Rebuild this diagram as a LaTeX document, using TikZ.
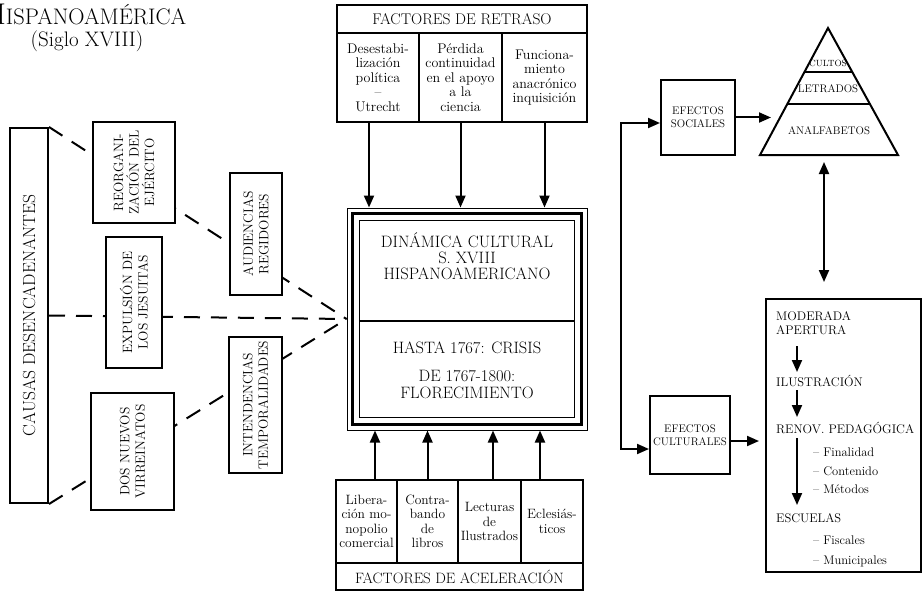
\documentclass[tikz,border=0pt]{standalone}
\usetikzlibrary{arrows.meta,backgrounds,calc}
\newcommand{\tam}[2]{\fontsize{#1}{#2}\selectfont}

\begin{document}
\begin{tikzpicture}[x=1pt,y=-1pt,
    caja/.style={draw, line width=2pt, fill=white, inner sep=1pt, align=center},
    giro/.style={caja, rotate=90, font=\tam{13.5}{15.5}},
    sub/.style={caja, font=\tam{14}{14.5}},
    acel/.style={caja, font=\tam{13.5}{14.5}},
    texto/.style={inner sep=0pt, align=center},
    central/.style={texto, anchor=base, font=\tam{16.5}{16.5}},
    renglon/.style={inner sep=0pt, anchor=base west, font=\tam{12.5}{14}},
    flecha/.style={line width=2pt, -{Triangle[length=12pt,width=10pt]}},
    doble/.style={line width=2pt, {Triangle[length=12pt,width=10pt]}-{Triangle[length=12pt,width=10pt]}},
    guion/.style={line width=2pt, dash pattern=on 16pt off 11pt}]
  \useasboundingbox (0,0) rectangle (923,599);

  \node[texto, anchor=base west] (titulo) at (-15,25) {\tam{30}{30}H\tam{22.5}{22.5}ISPANOAMÉRICA};
  \node[texto, anchor=base] (siglo) at (87,47) {\tam{21}{21}(Siglo XVIII)};

  \node[caja, minimum width=250, minimum height=28, font=\tam{15.5}{15.5}] (retraso) at (462,19) {FACTORES DE RETRASO};
  \node[sub, minimum width=82, minimum height=89] (ret1) at (378,77.5) {Desestabi-\\lización\\política\\–\\Utrecht};
  \node[sub, minimum width=83, minimum height=89] (ret2) at (460.5,77.5) {Pérdida\\continuidad\\en el apoyo\\a la\\ciencia};
  \node[sub, minimum width=85, minimum height=89] (ret3) at (544.5,77.5) {Funciona-\\miento\\anacrónico\\inquisición};

  \node[draw, line width=1pt, minimum width=240, minimum height=222] (main) at (467,319) {};
  \node[draw, line width=3.2pt, minimum width=229, minimum height=211] (marco) at (main.center) {};
  \node[draw, line width=1.1pt, minimum width=215, minimum height=197] (interior) at (main.center) {};
  \draw[line width=1.1pt] ([yshift=-2]interior.west) -- ([yshift=-2]interior.east);
  \node[central] (dinamica) at (467,247) {DINÁMICA CULTURAL};
  \node[central] (sxviii) at (467,263) {S. XVIII};
  \node[central] (hispano) at (467,279) {HISPANOAMERICANO};
  \node[central] (hasta) at (467,353) {HASTA 1767: CRISIS};
  \node[central] (desde) at (467,381) {DE 1767-1800:};
  \node[central] (flor) at (467,398) {FLORECIMIENTO};

  \node[acel, minimum width=61, minimum height=83] (acc1) at (366.5,521.5) {Libera-\\ción mo-\\nopolio\\comercial};
  \node[acel, minimum width=61, minimum height=83] (acc2) at (427.5,521.5) {Contra-\\bando\\de\\libros};
  \node[acel, minimum width=63, minimum height=83] (acc3) at (489.5,521.5) {Lecturas\\de\\Ilustrados};
  \node[acel, minimum width=62, minimum height=83] (acc4) at (552,521.5) {Eclesiás-\\ticos};
  \node[caja, minimum width=247, minimum height=27, font=\tam{15}{15}] (acelera) at (459.5,576.5) {FACTORES DE ACELERACIÓN};

  \coordinate (r1) at ([xshift=-9]ret1.south);
  \coordinate (r2) at (ret2.south);
  \coordinate (r3) at (ret3.south);
  \foreach \r in {r1,r2,r3}
    \draw[flecha] (\r) -- (\r |- main.north);
  \coordinate (a1) at ([xshift=8.5]acc1.north);
  \coordinate (a2) at (acc2.north);
  \coordinate (a3) at ([xshift=3.5]acc3.north);
  \coordinate (a4) at ([xshift=-12]acc4.north);
  \foreach \a in {a1,a2,a3,a4}
    \draw[flecha] (\a) -- (\a |- main.south);

  \node[giro, minimum width=375, minimum height=38, font=\tam{17.5}{17.5}] (causas) at (29,315.5) {CAUSAS DESENCADENANTES};
  \node[giro, minimum width=101, minimum height=82] (reorg) at (134,172.5) {REORGANI-\\ZACIÓN DEL\\EJÉRCITO};
  \node[giro, minimum width=131, minimum height=56] (expul) at (134,302.5) {EXPULSIÓN DE\\LOS JESUITAS};
  \node[giro, minimum width=117, minimum height=83] (dos) at (132.5,451.5) {DOS NUEVOS\\VIRREINATOS};
  \node[giro, minimum width=122, minimum height=52] (audien) at (256,234) {AUDIENCIAS\\REGIDORES};
  \node[giro, minimum width=136, minimum height=53] (intend) at (255.5,405) {INTENDENCIAS\\TEMPORALIDADES};
  \begin{scope}[on background layer]
    \draw[guion] (causas.south east) -- (main.west);
    \draw[guion] (causas.south) -- (main.west);
    \draw[guion] (causas.south west) -- (main.west);
  \end{scope}

  \node[caja, minimum width=74, minimum height=75, font=\tam{11}{13}] (efsoc) at (698,117.5) {EFECTOS\\SOCIALES};
  \node[caja, minimum width=80, minimum height=78, font=\tam{11}{13}] (efcult) at (690,435) {EFECTOS\\CULTURALES};
  \node[caja, minimum width=155, minimum height=273] (escuela) at (843.5,435.5) {};

  \coordinate (cima) at (828,28);
  \coordinate (baseizq) at (760,155);
  \coordinate (baseder) at (898,155);
  \draw[line width=2pt] (cima) -- (baseder) -- (baseizq) -- cycle;
  \draw[line width=2pt] ($(cima)!0.3465!(baseizq)$) -- ($(cima)!0.3465!(baseder)$);
  \draw[line width=2pt] ($(cima)!0.598!(baseizq)$) -- ($(cima)!0.598!(baseder)$);
  \node[texto, font=\tam{9}{9}] (cultos) at (828,63) {CULTOS};
  \node[texto, font=\tam{11}{11}] (letrados) at (828,89) {LETRADOS};
  \node[texto, font=\tam{11}{11}] (analfa) at (829,131) {ANALFABETOS};

  \coordinate (pizq) at (771,117.5);
  \draw[flecha] (efsoc.east) -- (pizq);
  \coordinate (pbase) at (824,155);
  \draw[doble, shorten <=7pt, shorten >=16pt] (pbase) -- (pbase |- escuela.north);
  \coordinate (rama) at (621,286);
  \coordinate (es) at ([yshift=-5.5]efsoc.west);
  \coordinate (ec) at ([yshift=-14]efcult.west);
  \draw[doble] (es) -| (rama) |- (ec);
  \coordinate (ce) at ([yshift=-6]efcult.east);
  \draw[flecha, shorten >=6pt] (ce) -- (ce -| escuela.west);

  \node[renglon] (moderada) at (776,320) {MODERADA};
  \node[renglon] (apertura) at (776,334) {APERTURA};
  \node[renglon] (ilus) at (776,386) {ILUSTRACIÓN};
  \node[renglon] (renov) at (776,433) {RENOV. PEDAGÓGICA};
  \node[renglon] (finalidad) at (813,456) {– Finalidad};
  \node[renglon] (contenido) at (813,475) {– Contenido};
  \node[renglon] (metodos) at (813,493) {– Métodos};
  \node[renglon] (escuelas) at (776,522) {ESCUELAS};
  \node[renglon] (fiscales) at (813,544) {– Fiscales};
  \node[renglon] (munic) at (813,564) {– Municipales};
  \draw[flecha] ($(apertura.base west)+(21,12)$) -- ($(ilus.base west)+(21,-14)$);
  \draw[flecha] ($(ilus.base west)+(21,4)$) -- ($(renov.base west)+(21,-16)$);
  \draw[flecha] ($(renov.base west)+(21,5)$) -- ($(escuelas.base west)+(21,-17)$);
\end{tikzpicture}
\end{document}
